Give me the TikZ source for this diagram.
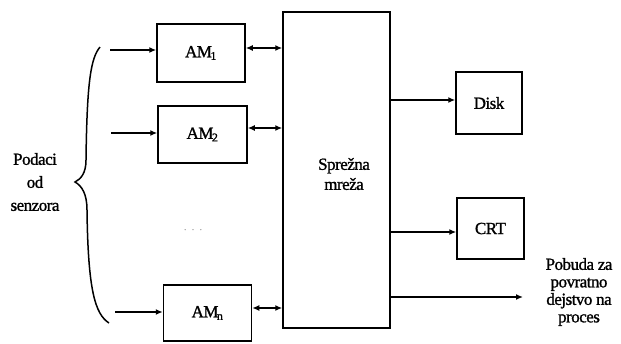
\documentclass[tikz,border=0pt]{standalone}
\usepackage{fontspec}
\setmainfont[FakeBold=1.2,LetterSpace=-3]{Liberation Serif}
\usetikzlibrary{arrows.meta}
\begin{document}
\begin{tikzpicture}[x=1pt,y=-1pt,
  blk/.style={draw,line width=1.5pt,inner sep=0pt,font=\fontsize{17}{18}\selectfont},
  con/.style={line width=1.6pt,-{Latex[length=7pt,width=6pt]}},
  bicon/.style={line width=1.6pt,{Latex[length=7pt,width=6pt]}-{Latex[length=7pt,width=6pt]}},
  lbl/.style={align=center,inner sep=0pt,font=\fontsize{17}{23}\selectfont}]
\useasboundingbox (0,0) rectangle (621,343);
% blocks
\node[blk,minimum width=88pt,minimum height=58pt] (am1) at (201,53) {AM\kern-1.5pt\textsubscript{1}};
\node[blk,minimum width=89pt,minimum height=57pt] (am2) at (202.5,134.5) {AM\kern-1.5pt\textsubscript{2}};
\node[blk,minimum width=88pt,minimum height=56pt] (amn) at (207.5,313) {AM\kern-1.5pt\textsubscript{n}};
\node[blk,minimum width=107pt,minimum height=316pt] (main) at (336.5,170) {};
\node[lbl,font=\fontsize{17}{20}\selectfont] (mtxt) at (344,174) {Sprežna\\mreža};
\node[blk,minimum width=66pt,minimum height=62pt] (disk) at (489,103) {Disk};
\node[blk,minimum width=67pt,minimum height=61pt] (crt) at (490.5,228.5) {CRT};
% input coordinates
\coordinate (in1) at (110,50);
\coordinate (in2) at (111,133);
\coordinate (inn) at (115,312);
\draw[con] (in1) -- (am1.west |- in1);
\draw[con] (in2) -- (am2.west |- in2);
\draw[con] (inn) -- (amn.west |- inn);
% bidirectional
\draw[bicon] (am1.east |- 0,48) -- (main.west |- 0,48);
\draw[bicon] (am2.east |- 0,128) -- (main.west |- 0,128);
\draw[bicon] (amn.east |- 0,308) -- (main.west |- 0,308);
% outputs
\draw[con] (main.east |- 0,100) -- (disk.west |- 0,100);
\draw[con] (main.east |- 0,232) -- (crt.west |- 0,232);
\coordinate (out) at (523,297);
\draw[con] (main.east |- out) -- (out);
% brace
\draw[line width=1.5pt] (100,47) .. controls (91,58) and (87,80) .. (86,160)
  .. controls (86,173) and (81,179) .. (75,182)
  .. controls (82,186) and (87,194) .. (87,210)
  .. controls (88,290) and (95,314) .. (109,323);
% labels
\node[lbl] (src) at (35,182) {Podaci\\od\\senzora};
\node[lbl,font=\fontsize{17}{17.5}\selectfont] (fb) at (579,292) {Pobuda za\\povratno\\dejstvo na\\proces};
\node[anchor=base,inner sep=0pt,text=gray!70,font=\fontsize{9}{9}\selectfont] (dots) at (193,230) {.\hspace{5.5pt}.\hspace{5.5pt}.};
\end{tikzpicture}
\end{document}
